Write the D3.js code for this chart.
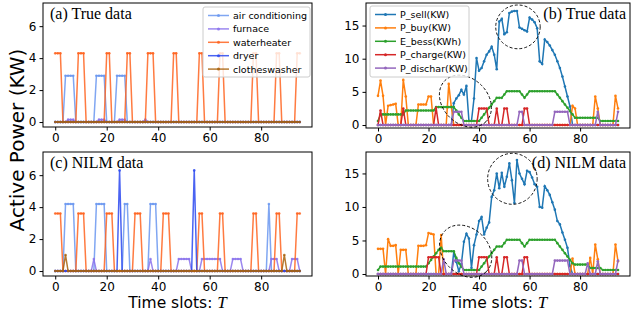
<!DOCTYPE html>
<html>
<head>
<meta charset="utf-8">
<script src="https://cdn.jsdelivr.net/npm/d3@7"></script>
<style>
  body { margin: 0; background: #fff; }
  svg { display: block; font-family: "DejaVu Sans", sans-serif; }
</style>
</head>
<body>
<script>
// time slots 0..95
const slots = d3.range(96);
const xTicks = [0, 20, 40, 60, 80];

// ---- appliance data, true (a) ----
const acTrue = [
  0,0,0,0,2.9,2.9,2.9,2.9,0,0,
  0,0,0,0,0,0,2.9,2.9,2.9,2.9,
  0,0,0,0,2.9,2.9,2.9,2.9,0,0,
  0,0,0,0,0,0,0,0,0,0,
  0,0,0,0,0,0,0,0,0,0,
  0,0,0,0,0,0,0,0,0,0,
  0,0,0,0,0,0,0,0,0,0,
  0,0,0,0,0,0,0,0,0,0,
  0,0,0,0,0,0,0,0,0,0,
  0,0,0,0,0,0];
const furnaceTrue = [
  0,0,0,0,0,0.15,0.15,0.15,0,0,
  0,0,0,0,0,0,0,0.15,0.15,0.15,
  0,0,0,0,0,0.15,0.15,0.15,0,0,
  0,0,0,0,0,0.15,0,0,0,0,
  0,0,0,0,0,0,0,0,0,0,
  0,0,0,0,0,0,0,0,0,0,
  0,0,0,0,0,0,0,0,0,0,
  0,0,0,0,0,0,0,0,0,0,
  0,0,0,0,0,0,0,0,0,0,
  0,0,0,0,0,0];
const heaterTrue = [
  4.3,4.3,4.3,0,0,0,0,0,0,4.3,
  4.3,4.3,0,0,0,0,0,0,0,0,
  4.3,4.3,0,0,0,0,0,0,4.3,4.3,
  0,0,0,0,0,0,4.3,4.3,4.3,0,
  0,0,0,0,0,0,4.3,4.3,0,0,
  0,0,0,0,0,0,4.3,4.3,0,0,
  0,0,0,0,4.3,4.3,0,0,0,0,
  0,0,0,0,0,0,0,4.3,4.3,0,
  0,0,0,0,0,0,4.3,4.3,0,0,
  0,0,0,0,4.3,4.3];
const dryerTrue = [
  0,0,0,0,0,0,0,0,0,0,
  0,0,0,0,0,0,0,0,0,0,
  0,0,0,0,0,0,0,0,0,0,
  0,0,0,0,0,0,0,0,0,0,
  0,0,0,0,0,0,0,0,0,0,
  0,0,0,0,0,0,0,0,0,0,
  0,0,0,0,0,0,0,0,0,0,
  0,0,0,0,0,0,0,0,0,0,
  0,0,0,0,0,0,0,0,0,0,
  0,0,0,0,0,0];
const washerTrue = [
  0,0,0,0,0,0,0,0,0,0,
  0,0,0,0,0,0,0,0,0,0,
  0,0,0,0,0,0,0,0,0,0,
  0,0,0,0,0,0,0,0,0,0,
  0,0,0,0,0,0,0,0,0,0,
  0,0,0,0,0,0,0,0,0,0,
  0,0,0,0,0,0,0,0,0,0,
  0,0,0,0,0,0,0,0,0,0,
  0,0,0,0,0,0,0,0,0,0,
  0,0,0,0,0,0];

// ---- appliance data, NILM (c) ----
const acNilm = [
  0,0,0,0,4.2,4.2,4.2,4.2,0,0,
  0,0,0,0,0,0,4.2,4.2,4.2,4.2,
  0,0,0,0,0,0,0,4.2,4.2,0,
  0,0,0,0,0,0,0,4.2,4.2,4.2,
  0,0,0,0,0,0,0,0,0,0,
  0,0,0,0,0,0,0,0,0,0,
  0,0,0,0,0,0,0,0,0,0,
  0,0,0,0,0,0,0,0,0,0,
  0,0,0,4.2,0,0,0,0,0,0,
  0,0,0,0,0,0];
const furnaceNilm = [
  0,0,0,0,0,0,0,0,0,0,
  0,0,0,0,0,0.75,0,0,0,0,
  0,0,0,0,0,0,0,0,0,0,
  0,0,0,0,0,0,0,0.75,0,0,
  0,0,0,0,0,0,0,0,0.75,0.75,
  0.75,0.75,0.75,0,0,0,0,0.75,0.75,0.75,
  0.75,0.75,0.75,0.75,0.75,0,0,0,0,0.75,
  0.75,0.75,0.75,0,0,0,0,0,0,0,
  0,0,0,0,0.75,0.75,0.75,0,0,0,
  0,0,0.75,0.75,0.75,0];
const heaterNilm = [
  3.6,3.6,3.6,0,0,0,0,0,0,3.6,
  3.6,3.6,0,0,0,0,0,0,0,0,
  3.6,3.6,3.6,0,0,0,0,0,0,0,
  0,3.6,3.6,3.6,0,0,0,0,0,0,
  0,0,3.6,3.6,3.6,0,0,0,0,0,
  0,0,0,0,0,0,3.6,3.6,0,0,
  0,0,0,0,3.6,3.6,0,0,0,0,
  0,0,0,0,0,0,0,3.6,3.6,0,
  0,0,0,0,0,0,3.6,3.6,0,0,
  0,0,0,0,3.6,3.6];
const dryerNilm = [
  0,0,0,0,0,0,0,0,0,0,
  0,0,0,0,0,0,0,0,0,0,
  0,0,0,0,0,6.3,0,0,0,0,
  0,0,0,0,0,0,0,0,0,0,
  0,0,0,0,0,0,0,0,0,0,
  0,0,0,0,6.3,0,0,0,0,0,
  0,0,0,0,0,0,0,0,0,0,
  0,0,0,0,0,0,0,0,0,0,
  0,0,0,0,0,0,0,0,0,0,
  0,0,0,0,0,0];
const washerNilm = [
  0,0,0,0,1.0,0,0,0,0,0,
  0,0,0,0,0,0,0,0,0,0,
  0,0,0,0,0,0,0,0,0,0,
  0,0,0,0,0,0,0,0,0,0,
  0,0,0,0,0,0,0,0,0,0,
  0,0,0,0,0,0,0,0,0,0,
  0,0,0,0,0,0,0,0,0,0,
  0,0,0,0,0,0,0,0,0,0,
  0,0,0,0,0,0,0,0,0,1.0,
  0,0,0,0,0,0];

// ---- energy flows, true (b) ----
const sellTrue = [
  0,0,0,0,0,0,0,0,0,0,
  0,0,0,0,0,0,0,0,0,0,
  0,0,0,0,0,0,0,0,0,0,
  3.3,4.0,4.5,5.3,4.6,5.9,0.6,0.6,4.0,10.1,
  8.2,8.6,9.6,10.6,11.1,11.8,10.6,8.4,15.6,16.0,
  13.7,14.0,16.9,17.1,17.2,17.2,14.7,14.5,14.3,14.1,
  16.2,15.9,15.5,14.6,9.6,9.2,12.9,12.5,12.0,11.3,
  10.6,9.6,8.6,7.3,5.8,4.3,2.8,0,0,0,
  0,0,0,0,0,0,0,0,0,0,
  0,0,0,0,0,0];
const buyTrue = [
  4.4,6.7,4.4,0,2.9,3.0,3.1,3.2,0,0,
  6.8,4.3,0,0,0,0,3.1,3.1,3.1,3.1,
  4.3,4.3,0,0,0,0,0,0,6.2,2.8,
  0,0,0,0,0,0,0,0,0,0,
  0,0,0,0,0,0,0,0,0,0,
  0,0,0,0,0,0,0,0,0,0,
  0,0,0,0,0,0,0,0,0,0,
  0,0,0,0,0,0,0,2.9,2.5,0,
  0,0,0,0,0,0,4.3,2.5,0,0,
  0,0,0,0,4.4,2.5];
const bessTrue = [
  0.6,1.6,1.6,1.6,1.6,1.6,1.6,1.6,1.6,1.6,
  1.6,2.2,2.2,2.2,2.2,2.2,2.2,2.2,2.2,2.2,
  2.2,2.2,2.2,2.7,2.7,2.7,2.7,2.7,2.7,2.7,
  2.7,2.2,1.6,1.1,0.6,0.6,0.6,0.6,0.6,0.6,
  0.6,1.1,1.6,2.1,2.6,3.1,3.6,4.1,4.1,4.1,
  4.6,5.1,5.1,5.1,5.1,5.1,5.1,4.6,4.1,4.6,
  5.1,5.1,5.1,5.1,5.1,5.1,5.1,5.1,5.1,5.1,
  5.1,4.6,4.1,3.6,3.1,2.6,2.1,1.6,1.1,1.1,
  1.1,1.1,1.1,1.1,1.1,1.1,1.1,1.1,0.6,0.6,
  0.6,0.6,0.6,0.6,0.6,0.6];
const chargeTrue = [
  0,2.2,0,0,0,0,0,0,0,0,
  2.5,0,0,0,0,0,0,0,0,0,
  0,0,0,2.6,0,0,0,0,0,0,
  0,0,0,0,0,0,0,0,0,0,
  2.5,2.5,2.5,2.5,0,0,0,2.5,0,0,
  2.5,2.5,0,0,0,0,0,0,2.5,2.5,
  0,0,0,0,0,0,0,0,0,0,
  0,0,0,0,0,0,0,0,0,0,
  0,0,0,0,0,0,0,0,0,0,
  0,0,0,0,0,0];
const dischTrue = [
  0,0,0,0,0,0,0,0,0,0,
  0,0,0,0,0,0,0,0,0,0,
  0,0,0,0,0,0,0,0,0,0,
  2.0,2.0,2.0,2.0,0,0,0,0,0,0,
  0,0,0,0,0,0,0,0,0,0,
  0,0,0,0,0,0,2.0,2.0,0,0,
  0,0,0,0,0,0,0,0,0,0,
  2.0,2.0,2.0,2.0,2.0,2.0,0,0,0,0,
  0,0,0,0,0,0,0,2.0,0,0,
  0,0,0,0,0,2.0];

// ---- energy flows, NILM (d) ----
const sellNilm = [
  0,0,0,0,0,0,0,0,0,0,
  0,0,0,0,0,0,0,0,0,0,
  0,0,0,0,0,0,0,0,0,0,
  3.3,1.8,0.4,1.5,4.8,6.0,5.3,0.9,4.3,5.9,
  7.9,8.5,5.9,6.9,7.7,11.5,12.5,15.0,12.8,15.1,
  13.0,14.5,16.5,14.0,10.6,17.0,15.0,14.2,13.4,15.4,
  15.2,14.4,13.4,13.0,10.0,9.9,13.1,12.5,11.8,10.7,
  9.6,7.9,7.4,6.2,5.1,3.9,1.2,0,0,0,
  0,0,0,0,0,0,0,0,0,0,
  0,0,0,0,0,0];
const buyNilm = [
  3.75,3.75,3.75,0,5.2,4.2,4.2,4.3,0,3.6,
  3.6,3.6,0,0,0,0,4.2,4.2,4.2,4.3,
  6.1,6.0,5.9,0,0,5.8,0,0,0,0,
  0,0,0,0,0,0,0,0,0,0,
  0,0,0,0,0,0,0,0,0,0,
  0,0,0,0,0,0,0,0,0,0,
  0,0,0,0,0,0,0,0,0,0,
  0,0,0,0,0,0,0,2.3,0,0,
  0,0,0,0,2.4,0,4.4,2.2,0,0,
  0,0,0,0,4.4,1.9];
const bessNilm = [
  0.6,1.1,1.1,1.1,1.1,1.1,1.1,1.1,1.1,1.1,
  1.1,1.1,1.1,1.1,1.1,1.1,1.1,1.1,1.1,1.1,
  1.6,2.1,2.6,3.1,3.6,3.9,3.4,3.4,3.4,3.4,
  3.4,2.4,1.6,1.1,0.6,0.6,0.6,0.6,0.6,0.6,
  0.6,1.1,1.6,2.1,2.6,3.1,3.6,4.1,4.1,4.1,
  4.6,5.1,5.1,5.1,5.1,5.1,5.1,4.6,4.1,4.6,
  5.1,5.1,5.1,5.1,5.1,5.1,5.1,5.1,5.1,5.1,
  5.1,4.6,4.1,3.6,3.1,2.6,2.1,1.6,1.4,1.4,
  1.4,1.4,1.4,1.4,0.9,0.9,0.9,0.9,0.9,0.6,
  0.6,0.6,0.6,0.6,0.6,0.6];
const chargeNilm = [
  0,0,0,0,0,0,0,0,0,0,
  0,0,0,0,0,0,0,0,0,0,
  2.5,2.5,2.5,2.5,2.5,0,0,0,0,0,
  0,0,0,0,0,0,0,0,0,0,
  2.5,2.5,2.5,2.5,0,0,0,2.5,0,0,
  2.5,2.5,0,0,0,0,0,0,2.5,2.5,
  0,0,0,0,0,0,0,0,0,0,
  0,0,0,0,0,0,0,0,0,0,
  0,0,0,0,0,0,0,0,0,0,
  0,0,0,0,0,0];
const dischNilm = [
  0,0,0,0,0,0,0,0,0,0,
  0,0,0,0,0,0,0,0,0,0,
  0,0,0,0,0,0,2.2,0,0,0,
  2.0,2.0,2.0,2.0,0,0,0,0,0,0,
  0,0,0,0,0,0,0,0,0,0,
  0,0,0,0,0,0,2.0,2.0,0,0,
  0,0,0,0,0,0,0,0,0,0,
  2.0,2.0,2.0,2.0,2.0,2.0,0,0,0,0,
  0,0,0,1.6,0,0,0,1.9,0,0,
  0,0,0,0,0,2.0];

const applianceNames = ["air conditioning", "furnace", "waterheater", "dryer", "clotheswasher"];
const applianceColors = ["#6a96f0", "#8a72ec", "#ff6420", "#2a48f0", "#a8620c"];
const flowNames = ["P_sell(KW)", "P_buy(KW)", "E_bess(KWh)", "P_charge(KW)", "P_dischar(KW)"];
const flowColors = ["#1f77b4", "#ff7f0e", "#2ca02c", "#d62728", "#9467bd"];

// dashed circles: centre (slot, value) and radii in data units, tilt in degrees
const circlesTrue = [
  { slot: 55.4, value: 14.8, rs: 8.8, rv: 3.3, tilt: 0 },
  { slot: 34.6, value: 3.6, rs: 11.5, rv: 3.4, tilt: 45 }
];
const circlesNilm = [
  { slot: 53.2, value: 14.2, rs: 9.8, rv: 3.8, tilt: 0 },
  { slot: 34.7, value: 3.4, rs: 11.5, rv: 3.4, tilt: 45 }
];

const svg = d3.select("body").append("svg")
  .attr("width", 631)
  .attr("height", 320);

function drawPanel(p) {
  const x = d3.scaleLinear().domain([-4.75, 99.75]).range([p.left, p.left + p.width]);
  const y = d3.scaleLinear().domain(p.yDomain).range([p.top + p.height, p.top]);
  const g = svg.append("g");

  // axes
  const xa = g.append("g")
    .attr("transform", "translate(0," + (p.top + p.height) + ")")
    .call(d3.axisBottom(x).tickValues(xTicks).tickSize(3.5).tickPadding(3));
  const ya = g.append("g")
    .attr("transform", "translate(" + p.left + ",0)")
    .call(d3.axisLeft(y).tickValues(p.yTicks).tickSize(3.5).tickPadding(3));
  [xa, ya].forEach(a => {
    a.select(".domain").remove();
    a.selectAll("text").attr("font-size", 12).attr("fill", "#000")
      .attr("font-family", "DejaVu Sans");
    a.selectAll("line").attr("stroke", "#000");
  });

  // series lines + markers
  const line = d3.line().x((d, i) => x(slots[i])).y(d => y(d));
  p.series.forEach((s, k) => {
    g.append("path")
      .attr("d", line(s))
      .attr("fill", "none")
      .attr("stroke", p.colors[k])
      .attr("stroke-width", 1.5)
      .attr("stroke-opacity", p.alpha);
    g.selectAll(null)
      .data(s)
      .enter()
      .append("circle")
      .attr("cx", (d, i) => x(slots[i]))
      .attr("cy", d => y(d))
      .attr("r", 1.3)
      .attr("fill", p.colors[k])
      .attr("fill-opacity", p.alpha);
  });

  // dashed circles
  (p.circles || []).forEach(c => {
    const cx = x(c.slot), cy = y(c.value);
    g.append("ellipse")
      .attr("transform", "translate(" + cx + "," + cy + ") rotate(" + c.tilt + ")")
      .attr("rx", x(c.slot + c.rs) - cx)
      .attr("ry", cy - y(c.value + c.rv))
      .attr("fill", "none")
      .attr("stroke", "#000")
      .attr("stroke-width", 0.9)
      .attr("stroke-dasharray", "3,2");
  });

  // frame
  g.append("rect")
    .attr("x", p.left).attr("y", p.top)
    .attr("width", p.width).attr("height", p.height)
    .attr("fill", "none").attr("stroke", "#000").attr("stroke-width", 1);

  // title
  g.append("text")
    .attr("x", p.titleAnchor === "end" ? p.left + p.width - 4 : p.left + 7)
    .attr("y", p.top + 16)
    .attr("text-anchor", p.titleAnchor)
    .attr("font-family", "Liberation Serif, serif")
    .attr("font-size", 16)
    .text(p.title);

  // legend
  if (p.legend) {
    const L = p.legend;
    const lg = g.append("g");
    lg.append("rect")
      .attr("x", L.x).attr("y", L.y).attr("width", L.w).attr("height", L.h)
      .attr("rx", 2)
      .attr("fill", "#fff").attr("fill-opacity", 0.8)
      .attr("stroke", "#ccc");
    p.names.forEach((n, k) => {
      const yy = L.y + 8.5 + k * 13.4;
      lg.append("line")
        .attr("x1", L.x + 5).attr("x2", L.x + 26)
        .attr("y1", yy).attr("y2", yy)
        .attr("stroke", p.colors[k]).attr("stroke-width", 1.5)
        .attr("stroke-opacity", p.alpha);
      lg.append("circle")
        .attr("cx", L.x + 15.5).attr("cy", yy).attr("r", 1.5)
        .attr("fill", p.colors[k]).attr("fill-opacity", p.alpha);
      lg.append("text")
        .attr("x", L.x + 30).attr("y", yy + 3.4)
        .attr("font-size", 9.5)
        .text(n);
    });
  }

  if (p.xlabel) {
    const t = g.append("text")
      .attr("x", p.left + p.width / 2)
      .attr("y", 308)
      .attr("text-anchor", "middle")
      .attr("font-size", 15.5);
    t.append("tspan").text("Time slots: ");
    t.append("tspan")
      .attr("font-family", "Liberation Serif, serif")
      .attr("font-style", "italic")
      .attr("font-size", 17)
      .text("T");
  }
}

drawPanel({
  left: 43, top: 3, width: 269, height: 124,
  yDomain: [-0.31, 7.45], yTicks: [0, 2, 4, 6],
  series: [acTrue, furnaceTrue, heaterTrue, dryerTrue, washerTrue],
  colors: applianceColors, names: applianceNames, alpha: 0.85,
  title: "(a) True data", titleAnchor: "start",
  legend: { x: 203, y: 7, w: 107, h: 70 }
});
drawPanel({
  left: 43, top: 152, width: 269, height: 124,
  yDomain: [-0.31, 7.45], yTicks: [0, 2, 4, 6],
  series: [acNilm, furnaceNilm, heaterNilm, dryerNilm, washerNilm],
  colors: applianceColors, names: applianceNames, alpha: 0.85,
  title: "(c) NILM data", titleAnchor: "start",
  xlabel: true
});
drawPanel({
  left: 366, top: 3, width: 264, height: 125,
  yDomain: [-0.45, 18.4], yTicks: [0, 5, 10, 15],
  series: [sellTrue, buyTrue, bessTrue, chargeTrue, dischTrue],
  colors: flowColors, names: flowNames, alpha: 1,
  title: "(b) True data", titleAnchor: "end",
  legend: { x: 370, y: 6, w: 99, h: 71 },
  circles: circlesTrue
});
drawPanel({
  left: 366, top: 152, width: 264, height: 124,
  yDomain: [-0.3, 18.2], yTicks: [0, 5, 10, 15],
  series: [sellNilm, buyNilm, bessNilm, chargeNilm, dischNilm],
  colors: flowColors, names: flowNames, alpha: 1,
  title: "(d) NILM data", titleAnchor: "end",
  xlabel: true,
  circles: circlesNilm
});

// shared y label
svg.append("text")
  .attr("transform", "translate(24,140) rotate(-90)")
  .attr("text-anchor", "middle")
  .attr("font-size", 20)
  .text("Active Power (KW)");
</script>
</body>
</html>
